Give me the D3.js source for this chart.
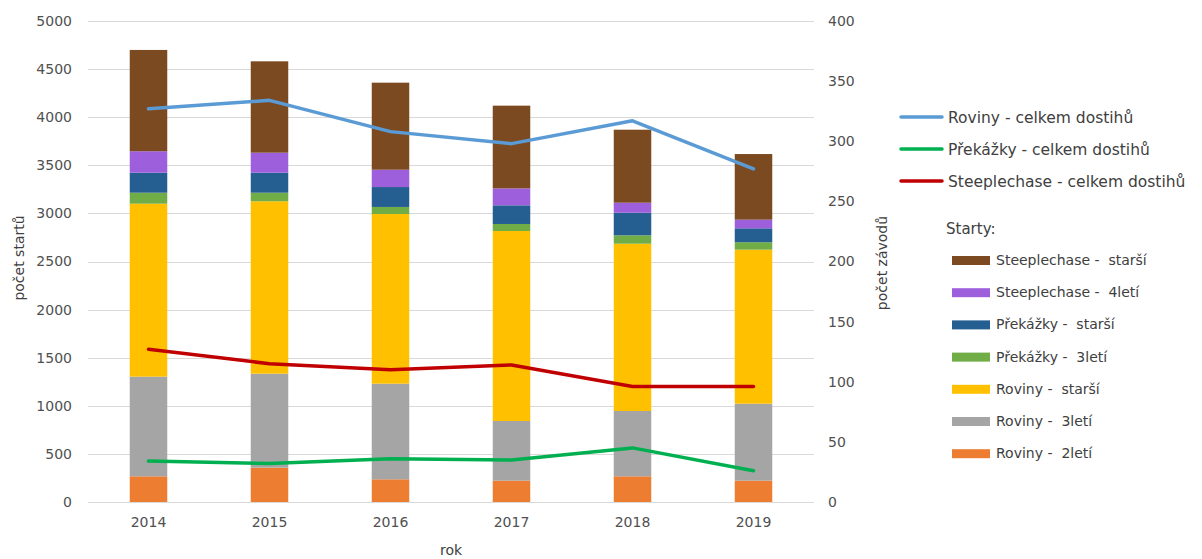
<!DOCTYPE html>
<html>
<head>
<meta charset="utf-8">
<script src="https://cdn.jsdelivr.net/npm/d3@7"></script>
<style>
body { margin: 0; background: #fff; }
svg text { font-family: "DejaVu Sans", "Open Sans", sans-serif; white-space: pre; }
</style>
</head>
<body>
<svg id="chart" width="1202" height="559"></svg>
<script>
// ---- data ----
var years = ["2014", "2015", "2016", "2017", "2018", "2019"];

// starty (stacked bars, bottom -> top)
var rovinyDvouleti   = [267, 357, 236, 222, 267, 222];
var rovinyTrileti    = [1036, 977, 994, 620, 679, 800];
var rovinyStarsi     = [1798, 1792, 1764, 1975, 1739, 1601];
var prekazkyTrileti  = [114, 89, 73, 73, 87, 77];
var prekazkyStarsi   = [208, 208, 207, 194, 235, 145];
var steepleCtyrleti  = [223, 208, 180, 176, 104, 90];
var steepleStarsi    = [1053, 950, 905, 860, 759, 682];

// celkem dostihu (lines, right axis)
var rovinyCelkem     = [327, 334, 308, 298, 317, 277];
var prekazkyCelkem   = [34, 32, 36, 35, 45, 26];
var steepleCelkem    = [127, 115, 110, 114, 96, 96];

var leftTicks  = [0, 500, 1000, 1500, 2000, 2500, 3000, 3500, 4000, 4500, 5000];
var rightTicks = [0, 50, 100, 150, 200, 250, 300, 350, 400];

var barSeries = [
  {key: "r2", name: "Roviny -  2letí", values: rovinyDvouleti, color: "#ed7d31"},
  {key: "r3", name: "Roviny -  3letí", values: rovinyTrileti, color: "#a5a5a5"},
  {key: "rs", name: "Roviny -  starší", values: rovinyStarsi, color: "#ffc000"},
  {key: "p3", name: "Překážky -  3letí", values: prekazkyTrileti, color: "#70ad47"},
  {key: "ps", name: "Překážky -  starší", values: prekazkyStarsi, color: "#255e91"},
  {key: "s4", name: "Steeplechase -  4letí", values: steepleCtyrleti, color: "#9e5fdc"},
  {key: "ss", name: "Steeplechase -  starší", values: steepleStarsi, color: "#7b4a21"}
];
var lineSeries = [
  {name: "Roviny - celkem dostihů", values: rovinyCelkem, color: "#5b9bd5"},
  {name: "Překážky - celkem dostihů", values: prekazkyCelkem, color: "#00b050"},
  {name: "Steeplechase - celkem dostihů", values: steepleCelkem, color: "#c00000"}
];

// ---- layout ----
var svg = d3.select("#chart");
var plot = {left: 88, right: 814, top: 21, bottom: 502};
var fs = 14;

var x = d3.scaleBand().domain(years).range([plot.left, plot.right]).paddingInner(0.69).paddingOuter(0.345);
var yL = d3.scaleLinear().domain([0, 5000]).range([plot.bottom, plot.top]);
var yR = d3.scaleLinear().domain([0, 400]).range([plot.bottom, plot.top]);

// gridlines
svg.append("g").selectAll("line").data(leftTicks).enter().append("line")
  .attr("x1", plot.left).attr("x2", plot.right)
  .attr("y1", function(d){ return Math.round(yL(d)) + 0.5; })
  .attr("y2", function(d){ return Math.round(yL(d)) + 0.5; })
  .attr("stroke", "#d9d9d9").attr("stroke-width", 1);

// left axis
var axL = svg.append("g").attr("transform", "translate(" + plot.left + ",0)")
  .call(d3.axisLeft(yL).tickValues(leftTicks).tickFormat(d3.format("d")).tickSize(0).tickPadding(16));
axL.select(".domain").remove();
axL.selectAll("text").attr("font-size", fs).attr("fill", "#505050");

// right axis
var axR = svg.append("g").attr("transform", "translate(" + plot.right + ",0)")
  .call(d3.axisRight(yR).tickValues(rightTicks).tickFormat(d3.format("d")).tickSize(0).tickPadding(14));
axR.select(".domain").remove();
axR.selectAll("text").attr("font-size", fs).attr("fill", "#505050");

// bottom axis
var axB = svg.append("g").attr("transform", "translate(0," + plot.bottom + ")")
  .call(d3.axisBottom(x).tickSize(0).tickPadding(15));
axB.select(".domain").remove();
axB.selectAll("text").attr("font-size", fs).attr("fill", "#505050");

// axis titles
svg.append("text").attr("transform", "translate(24,258) rotate(-90)")
  .attr("text-anchor", "middle").attr("font-size", 14).attr("fill", "#404040").text("počet startů");
svg.append("text").attr("transform", "translate(887,263) rotate(-90)")
  .attr("text-anchor", "middle").attr("font-size", 14).attr("fill", "#404040").text("počet závodů");
svg.append("text").attr("x", 451).attr("y", 555)
  .attr("text-anchor", "middle").attr("font-size", 14).attr("fill", "#404040").text("rok");

// stacked bars
var table = years.map(function(yr, i){
  var row = {year: yr};
  barSeries.forEach(function(s){ row[s.key] = s.values[i]; });
  return row;
});
var stack = d3.stack().keys(barSeries.map(function(s){ return s.key; }))(table);

svg.append("g").selectAll("g").data(stack).enter().append("g")
  .attr("fill", function(d, i){ return barSeries[i].color; })
  .selectAll("rect").data(function(d){ return d; }).enter().append("rect")
    .attr("x", function(d){ return x(d.data.year); })
    .attr("width", x.bandwidth())
    .attr("y", function(d){ return yL(d[1]); })
    .attr("height", function(d){ return yL(d[0]) - yL(d[1]); });

// lines
var line = d3.line()
  .x(function(d, i){ return x(years[i]) + x.bandwidth() / 2; })
  .y(function(d){ return yR(d); });

svg.append("g").selectAll("path").data(lineSeries).enter().append("path")
  .attr("d", function(d){ return line(d.values); })
  .attr("fill", "none")
  .attr("stroke", function(d){ return d.color; })
  .attr("stroke-width", 3.5)
  .attr("stroke-linejoin", "round")
  .attr("stroke-linecap", "round");

// legend - lines
var legL = svg.append("g").selectAll("g").data(lineSeries).enter().append("g")
  .attr("transform", function(d, i){ return "translate(899," + (117 + i * 32) + ")"; });
legL.append("line").attr("x1", 2).attr("x2", 43).attr("y1", 0).attr("y2", 0)
  .attr("stroke", function(d){ return d.color; }).attr("stroke-width", 3.5).attr("stroke-linecap", "round");
legL.append("text").attr("x", 49).attr("y", 6).attr("font-size", 15.5).attr("fill", "#404040")
  .text(function(d){ return d.name; });

// legend - bars
svg.append("text").attr("x", 946).attr("y", 234).attr("font-size", 15).attr("fill", "#404040").text("Starty:");

var legB = svg.append("g").selectAll("g").data(barSeries.slice().reverse()).enter().append("g")
  .attr("transform", function(d, i){ return "translate(952," + (260 + i * 32.2) + ")"; });
legB.append("rect").attr("x", 0).attr("y", -4).attr("width", 38).attr("height", 9)
  .attr("fill", function(d){ return d.color; });
legB.append("text").attr("x", 44).attr("y", 5).attr("font-size", 14).attr("fill", "#404040")
  .text(function(d){ return d.name; });
</script>
</body>
</html>
